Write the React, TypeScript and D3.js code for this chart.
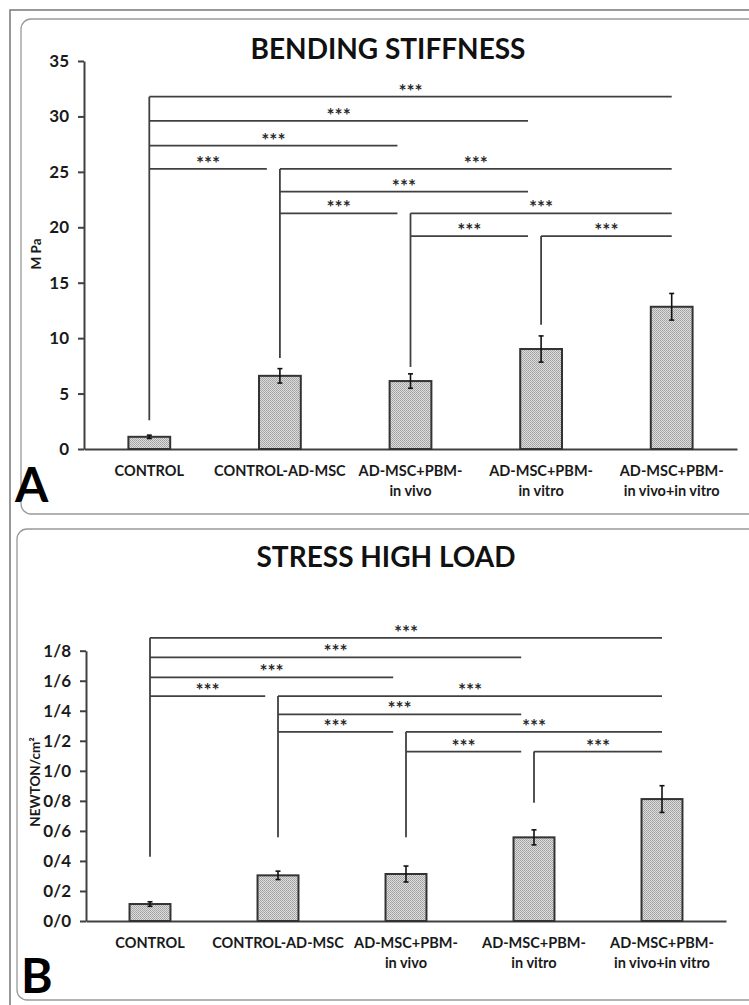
import { useRef, useEffect } from 'react';
import * as d3 from 'd3';

// categories (one array entry per label line)
const categoryLines: string[][] = [
    ['CONTROL'],
    ['CONTROL-AD-MSC'],
    ['AD-MSC+PBM-', 'in vivo'],
    ['AD-MSC+PBM-', 'in vitro'],
    ['AD-MSC+PBM-', 'in vivo+in vitro'],
];

// panel A - bending stiffness (M Pa)
const stiffnessMeans = [1.1, 6.6, 6.13, 9.02, 12.83];
const stiffnessErrors = [0.15, 0.65, 0.65, 1.18, 1.2];
const stiffnessTicks = [0, 5, 10, 15, 20, 25, 30, 35];
const stiffnessTickLabels = ['0', '5', '10', '15', '20', '25', '30', '35'];

// panel B - stress high load (NEWTON/cm2), decimal written with "/"
const stressMeans = [0.113, 0.304, 0.313, 0.557, 0.812];
const stressErrors = [0.015, 0.028, 0.053, 0.05, 0.089];
const stressTicks = [0, 0.2, 0.4, 0.6, 0.8, 1.0, 1.2, 1.4, 1.6, 1.8];
const stressTickLabels = ['0/0', '0/2', '0/4', '0/6', '0/8', '1/0', '1/2', '1/4', '1/6', '1/8'];

type Bracket = { from: number; to: number; level: number };

// significance brackets, level in data units
const stiffnessBrackets: Bracket[] = [
    { from: 0, to: 4, level: 31.78 },
    { from: 0, to: 3, level: 29.59 },
    { from: 0, to: 2, level: 27.36 },
    { from: 0, to: 1, level: 25.26 },
    { from: 1, to: 4, level: 25.26 },
    { from: 1, to: 3, level: 23.21 },
    { from: 1, to: 2, level: 21.26 },
    { from: 2, to: 4, level: 21.26 },
    { from: 2, to: 3, level: 19.21 },
    { from: 3, to: 4, level: 19.21 },
];
// where each bracket stem stops going down
const stiffnessStemEnds = [2.6, 8.2, 7.4, 11.2];

const stressBrackets: Bracket[] = [
    { from: 0, to: 4, level: 1.886 },
    { from: 0, to: 3, level: 1.756 },
    { from: 0, to: 2, level: 1.622 },
    { from: 0, to: 1, level: 1.498 },
    { from: 1, to: 4, level: 1.498 },
    { from: 1, to: 3, level: 1.376 },
    { from: 1, to: 2, level: 1.26 },
    { from: 2, to: 4, level: 1.26 },
    { from: 2, to: 3, level: 1.128 },
    { from: 3, to: 4, level: 1.128 },
];
const stressStemEnds = [0.428, 0.557, 0.557, 0.788];

const FONT = 'Lato, "Open Sans", sans-serif';

type PanelOpts = {
    title: string;
    titleX: number;
    titleY: number;
    yLabel: string;
    yLabelX: number;
    yLabelY: number;
    letter: string;
    letterX: number;
    letterY: number;
    xRange: [number, number];
    yRange: [number, number];
    yMax: number;
    ticks: number[];
    tickLabels: string[];
    means: number[];
    errors: number[];
    brackets: Bracket[];
    stemEnds: number[];
};

const drawPanel = (svg: d3.Selection<SVGSVGElement, unknown, null, undefined>, o: PanelOpts) => {
    const x = d3.scaleBand<number>()
        .domain(d3.range(categoryLines.length))
        .range(o.xRange)
        .padding(0);

    const y = d3.scaleLinear()
        .domain([0, o.yMax])
        .range(o.yRange);

    const cx = (i: number) => (x(i) as number) + x.bandwidth() / 2;
    const barW = x.bandwidth() * 0.32;

    // title
    svg.append('text')
        .attr('x', o.titleX)
        .attr('y', o.titleY)
        .attr('text-anchor', 'middle')
        .style('font-family', FONT)
        .style('font-weight', 'bold')
        .style('font-size', '28px')
        .style('fill', '#111')
        .text(o.title);

    // y axis
    const yAxis = svg.append('g')
        .attr('transform', `translate(${o.xRange[0]}, 0)`)
        .call(d3.axisLeft(y)
            .tickValues(o.ticks)
            .tickSize(6)
            .tickSizeOuter(0)
            .tickPadding(9)
            .tickFormat((_, i) => o.tickLabels[i]));

    yAxis.selectAll('path, line')
        .attr('stroke', '#404040')
        .attr('stroke-width', 2);

    yAxis.selectAll('text')
        .style('font-family', FONT)
        .style('font-weight', 'bold')
        .style('font-size', '17px')
        .attr('fill', '#1a1a1a');

    // x axis baseline
    const xAxis = svg.append('g')
        .attr('transform', `translate(0, ${y(0)})`)
        .call(d3.axisBottom(x).tickSize(0).tickSizeOuter(0).tickFormat(() => ''));

    xAxis.select('path')
        .attr('stroke', '#404040')
        .attr('stroke-width', 2);

    // category labels
    categoryLines.forEach((lines, i) => {
        const t = svg.append('text')
            .attr('text-anchor', 'middle')
            .style('font-family', FONT)
            .style('font-weight', 'bold')
            .style('font-size', '14.5px')
            .style('fill', '#1a1a1a');
        lines.forEach((line, k) => {
            t.append('tspan')
                .attr('x', cx(i))
                .attr('y', y(0) + 27 + k * 20)
                .text(line);
        });
    });

    // y label
    svg.append('text')
        .attr('transform', `translate(${o.yLabelX}, ${o.yLabelY}) rotate(-90)`)
        .attr('text-anchor', 'middle')
        .style('font-family', FONT)
        .style('font-weight', 'bold')
        .style('font-size', '13.5px')
        .style('fill', '#1a1a1a')
        .text(o.yLabel);

    // bars
    svg.append('g')
        .selectAll('rect')
        .data(o.means)
        .join('rect')
        .attr('x', (_, i) => cx(i) - barW / 2)
        .attr('y', d => y(d))
        .attr('width', barW)
        .attr('height', d => y(0) - y(d))
        .attr('fill', 'url(#stipple)')
        .attr('stroke', '#333')
        .attr('stroke-width', 2);

    // error bars
    const err = svg.append('g')
        .attr('stroke', '#111')
        .attr('stroke-width', 1.6);
    o.means.forEach((m, i) => {
        const lo = y(m - o.errors[i]);
        const hi = y(m + o.errors[i]);
        err.append('line').attr('x1', cx(i)).attr('x2', cx(i)).attr('y1', lo).attr('y2', hi);
        err.append('line').attr('x1', cx(i) - 2.5).attr('x2', cx(i) + 2.5).attr('y1', lo).attr('y2', lo);
        err.append('line').attr('x1', cx(i) - 2.5).attr('x2', cx(i) + 2.5).attr('y1', hi).attr('y2', hi);
    });

    // significance brackets
    const sig = svg.append('g');
    const last = categoryLines.length - 1;
    o.stemEnds.forEach((end, i) => {
        const top = d3.max(o.brackets.filter(b => b.from === i), b => b.level) as number;
        sig.append('line')
            .attr('x1', cx(i)).attr('x2', cx(i))
            .attr('y1', y(top)).attr('y2', y(end))
            .attr('stroke', '#404040')
            .attr('stroke-width', 1.8);
    });
    o.brackets.forEach(b => {
        const x1 = cx(b.from);
        const x2 = cx(b.to) - (b.to === last ? 0 : x.bandwidth() * 0.1);
        sig.append('line')
            .attr('x1', x1).attr('x2', x2)
            .attr('y1', y(b.level)).attr('y2', y(b.level))
            .attr('stroke', '#404040')
            .attr('stroke-width', 1.8);
        sig.append('text')
            .attr('x', (x1 + x2) / 2)
            .attr('y', y(b.level) + 1)
            .attr('text-anchor', 'middle')
            .style('font-family', FONT)
            .style('font-weight', 'bold')
            .style('font-size', '19px')
            .style('fill', '#2a2a2a')
            .text('***');
    });

    // panel letter
    svg.append('text')
        .attr('x', o.letterX)
        .attr('y', o.letterY)
        .style('font-family', FONT)
        .style('font-weight', 'bold')
        .style('font-size', '48px')
        .style('fill', '#000')
        .text(o.letter);
};

const App = () => {
    const svgRef = useRef<SVGSVGElement | null>(null);

    const renderChart = () => {
        const svgElement = svgRef.current;
        if (!svgElement) return;

        const svg = d3.select(svgElement);
        svg.selectAll('*').remove();

        const defs = svg.append('defs');
        const pat = defs.append('pattern')
            .attr('id', 'stipple')
            .attr('patternUnits', 'userSpaceOnUse')
            .attr('width', 2)
            .attr('height', 2);
        pat.append('rect').attr('width', 2).attr('height', 2).attr('fill', '#dcdcdc');
        pat.append('rect').attr('width', 1).attr('height', 1).attr('fill', '#a2a2a2');
        pat.append('rect').attr('x', 1).attr('y', 1).attr('width', 1).attr('height', 1).attr('fill', '#ababab');

        // outer frame and panel boxes
        svg.append('path')
            .attr('d', 'M10,1005 V10 H760')
            .attr('fill', 'none')
            .attr('stroke', '#777')
            .attr('stroke-width', 1.5);

        svg.append('rect')
            .attr('x', 21).attr('y', 19)
            .attr('width', 760).attr('height', 495)
            .attr('rx', 10)
            .attr('fill', 'none')
            .attr('stroke', '#999')
            .attr('stroke-width', 1.3);

        svg.append('rect')
            .attr('x', 17).attr('y', 529)
            .attr('width', 760).attr('height', 471)
            .attr('rx', 10)
            .attr('fill', 'none')
            .attr('stroke', '#999')
            .attr('stroke-width', 1.3);

        drawPanel(svg, {
            title: 'BENDING STIFFNESS',
            titleX: 388, titleY: 59,
            yLabel: 'M Pa', yLabelX: 41, yLabelY: 254,
            letter: 'A', letterX: 15, letterY: 502,
            xRange: [84, 737], yRange: [449, 61], yMax: 35,
            ticks: stiffnessTicks, tickLabels: stiffnessTickLabels,
            means: stiffnessMeans, errors: stiffnessErrors,
            brackets: stiffnessBrackets, stemEnds: stiffnessStemEnds,
        });

        drawPanel(svg, {
            title: 'STRESS HIGH LOAD',
            titleX: 386, titleY: 567,
            yLabel: 'NEWTON/cm²', yLabelX: 40, yLabelY: 782,
            letter: 'B', letterX: 21, letterY: 993,
            xRange: [86, 726], yRange: [921, 650.7], yMax: 1.8,
            ticks: stressTicks, tickLabels: stressTickLabels,
            means: stressMeans, errors: stressErrors,
            brackets: stressBrackets, stemEnds: stressStemEnds,
        });
    };

    useEffect(() => {
        document.body.style.margin = '0';
        renderChart();
    }, []);

    return (
        <svg ref={svgRef} width={749} height={1005} style={{ display: 'block', background: '#fff' }}></svg>
    );
};

export default App;
